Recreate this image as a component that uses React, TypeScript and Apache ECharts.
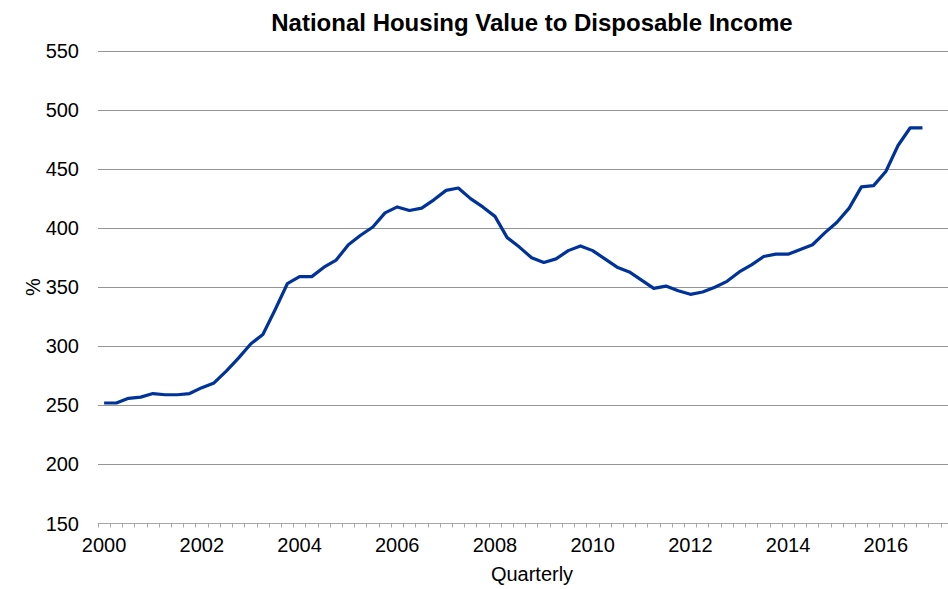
import React, { useEffect, useRef } from "react";
import * as echarts from "echarts";

const quarters: string[] = [
  "2000Q1", "2000Q2", "2000Q3", "2000Q4",
  "2001Q1", "2001Q2", "2001Q3", "2001Q4",
  "2002Q1", "2002Q2", "2002Q3", "2002Q4",
  "2003Q1", "2003Q2", "2003Q3", "2003Q4",
  "2004Q1", "2004Q2", "2004Q3", "2004Q4",
  "2005Q1", "2005Q2", "2005Q3", "2005Q4",
  "2006Q1", "2006Q2", "2006Q3", "2006Q4",
  "2007Q1", "2007Q2", "2007Q3", "2007Q4",
  "2008Q1", "2008Q2", "2008Q3", "2008Q4",
  "2009Q1", "2009Q2", "2009Q3", "2009Q4",
  "2010Q1", "2010Q2", "2010Q3", "2010Q4",
  "2011Q1", "2011Q2", "2011Q3", "2011Q4",
  "2012Q1", "2012Q2", "2012Q3", "2012Q4",
  "2013Q1", "2013Q2", "2013Q3", "2013Q4",
  "2014Q1", "2014Q2", "2014Q3", "2014Q4",
  "2015Q1", "2015Q2", "2015Q3", "2015Q4",
  "2016Q1", "2016Q2", "2016Q3", "2016Q4",
  "2017Q1", "2017Q2",
];

const housingToIncome: number[] = [
  252, 252, 256, 257, 260, 259, 259, 260,
  265, 269, 279, 290, 302, 310, 331, 353,
  359, 359, 367, 373, 386, 394, 401, 413,
  418, 415, 417, 424, 432, 434, 425, 418,
  410, 392, 384, 375, 371, 374, 381, 385,
  381, 374, 367, 363, 356, 349, 351, 347,
  344, 346, 350, 355, 363, 369, 376, 378,
  378, 382, 386, 396, 405, 417, 435, 436,
  448, 470, 485, 485,
];

const titleText = "National Housing Value to Disposable Income";
const xAxisTitle = "Quarterly";
const yAxisTitle = "%";

const FONT = "'Liberation Sans', Arial, Helvetica, sans-serif";

export default function App() {
  const ref = useRef<HTMLDivElement>(null);

  useEffect(() => {
    if (!ref.current) return;
    const chart = echarts.init(ref.current, undefined, { renderer: "svg" });
    chart.setOption({
      animation: false,
      backgroundColor: "#ffffff",
      textStyle: { fontFamily: FONT },
      title: {
        text: titleText,
        left: 527,
        top: 5,
        textAlign: "center",
        textStyle: {
          fontFamily: FONT,
          fontSize: 24,
          fontWeight: "bold",
          color: "#000000",
        },
      },
      graphic: [
        {
          type: "text",
          x: 33,
          y: 287,
          rotation: Math.PI / 2,
          style: {
            text: yAxisTitle,
            fontFamily: FONT,
            fontSize: 20,
            fill: "#000000",
            textAlign: "center",
            textVerticalAlign: "middle",
          },
        },
      ],
      grid: {
        left: 98,
        top: 51,
        width: 855,
        height: 472.5,
        containLabel: false,
        outerBoundsMode: "none",
      },
      xAxis: {
        type: "category",
        data: quarters,
        boundaryGap: true,
        name: xAxisTitle,
        nameLocation: "middle",
        nameGap: 40,
        nameTextStyle: {
          fontFamily: FONT,
          fontSize: 20,
          color: "#000000",
          padding: [0, 0, 0, 13],
        },
        axisLine: { show: true, lineStyle: { color: "#a6a6a6", width: 1 } },
        axisTick: {
          show: true,
          interval: 0,
          length: 4,
          lineStyle: { color: "#a6a6a6", width: 1 },
        },
        axisLabel: {
          interval: 7,
          margin: 11,
          fontFamily: FONT,
          fontSize: 20,
          color: "#000000",
          formatter: (v: string) => v.slice(0, 4),
        },
        splitLine: { show: false },
      },
      yAxis: {
        type: "value",
        min: 150,
        max: 550,
        interval: 50,
        axisLine: { show: false },
        axisTick: { show: false },
        axisLabel: {
          margin: 19,
          fontFamily: FONT,
          fontSize: 20,
          color: "#000000",
        },
        splitLine: { show: true, lineStyle: { color: "#959595", width: 1 } },
      },
      series: [
        {
          type: "line",
          name: titleText,
          data: housingToIncome,
          showSymbol: false,
          symbol: "none",
          lineStyle: { color: "#003399", width: 3.2, join: "round" },
          itemStyle: { color: "#003399" },
        },
      ],
    });
    return () => chart.dispose();
  }, []);

  return (
    <div
      ref={ref}
      style={{ position: "fixed", left: 0, top: 0, width: 948, height: 589 }}
    />
  );
}
